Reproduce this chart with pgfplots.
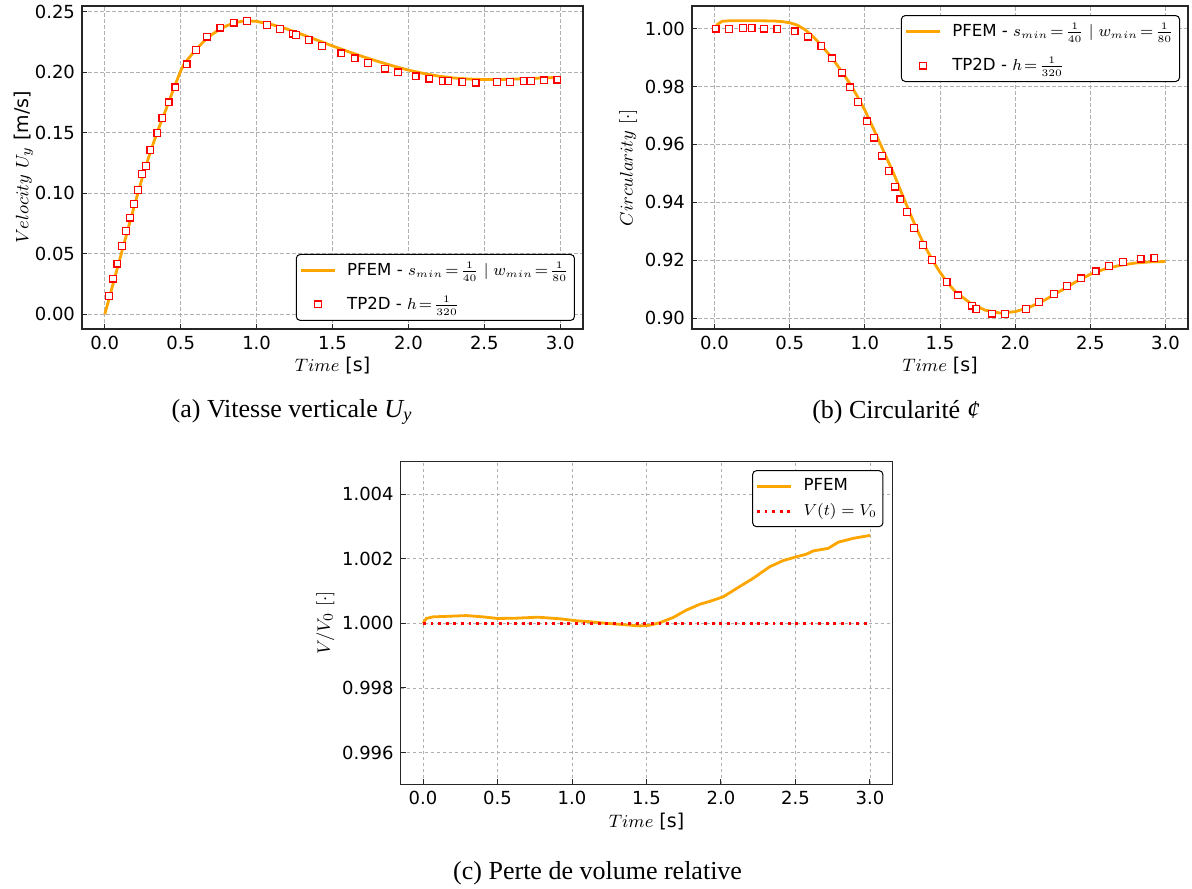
\documentclass[border=0pt]{standalone}
\usepackage[no-math]{fontspec}
\setmainfont{DejaVu Sans}
\newfontfamily\capfont{Liberation Serif}
\usepackage{pgfplots}
\pgfplotsset{compat=1.18}
\definecolor{mplorange}{HTML}{FFA500}
\definecolor{mplred}{RGB}{255,0,0}
\definecolor{gridgray}{HTML}{B0B0B0}
\newcommand{\eq}{\mkern2mu{=}\mkern2mu}
\newcommand{\lm}{\fontsize{7.8}{9}\selectfont}
\pgfplotsset{
  myax/.style={
    scale only axis,
    xmin=-0.15, xmax=3.15,
    xtick={0,0.5,1,1.5,2,2.5,3},
    xticklabel style={/pgf/number format/.cd,fixed,fixed zerofill,precision=1},
    /pgf/number format/assume math mode=true,
    scaled ticks=false,
    tick align=inside, tick pos=left,
    major tick length=2.5pt,
    grid=major,
    major grid style={gridgray, dash pattern=on 1.8pt off 1.2pt, line width=0.4pt},
    axis line style={black!85, line width=0.6pt},
    tick style={black!85, line width=0.5pt},
    tick label style={font=\fontsize{9}{10}\selectfont},
    label style={font=\fontsize{9.5}{11}\selectfont},
    xlabel style={yshift=3pt},
    ylabel style={yshift=-3pt},
    legend cell align=left,
    legend style={font=\fontsize{8.3}{9.8}\selectfont, draw=black, rounded corners=2pt, fill=white, line width=0.5pt,
      inner xsep=1.5pt, nodes={inner xsep=1.5pt}, /tikz/every odd column/.append style={column sep=4pt}},
  },
  pfem/.style={mplorange, line width=1.4pt, no markers},
  tp/.style={only marks, mark=square*, mark size=1.7pt, color=mplred, mark options={solid, line width=0.6pt, draw=mplred, fill=white}},
}
\begin{document}
\begin{tikzpicture}
\path[use as bounding box] (0,0) rectangle (596pt,-444pt);

% (a)
\begin{axis}[myax, at={(41pt,-3pt)}, anchor=north west, width=250.5pt, height=161.5pt,
  ymin=-0.0121, ymax=0.2545,
  ytick={0,0.05,0.1,0.15,0.2,0.25},
  yticklabel style={/pgf/number format/.cd,fixed,fixed zerofill,precision=2},
  xlabel={$Time$ [s]}, ylabel={$Velocity\ U_y$ [m/s]},
  ylabel style={yshift=-3pt},
  legend style={at={(0.984,0.025)}, anchor=south east, row sep=5pt}]
\addplot[pfem] coordinates {(0,0) (0.05,0.023) (0.1,0.046) (0.15,0.069) (0.2,0.092) (0.25,0.114) (0.3,0.134) (0.35,0.152) (0.4,0.168) (0.45,0.185) (0.5,0.201) (0.52,0.206) (0.55,0.211) (0.6,0.2185) (0.65,0.225) (0.7,0.2305) (0.75,0.2347) (0.8,0.238) (0.85,0.2405) (0.9,0.2418) (0.95,0.2422) (1.0,0.2418) (1.1,0.2392) (1.2,0.2355) (1.3,0.2310) (1.4,0.2263) (1.5,0.2215) (1.6,0.2170) (1.7,0.2127) (1.8,0.2087) (1.9,0.2050) (2.0,0.2016) (2.1,0.1988) (2.2,0.1966) (2.3,0.1951) (2.4,0.1942) (2.5,0.1938) (2.6,0.1938) (2.7,0.1942) (2.8,0.1947) (2.9,0.1952) (3.0,0.1956)};
\addlegendentry{PFEM - {\lm$s_{min}\eq\frac{1}{40}$ $|$ $w_{min}\eq\frac{1}{80}$}}
\addplot[tp] coordinates {(0.0285,0.0152) (0.0548,0.0295) (0.0833,0.0419) (0.1118,0.0565) (0.1404,0.0689) (0.1667,0.0799) (0.193,0.0912) (0.219,0.1028) (0.2456,0.1157) (0.272,0.1226) (0.300,0.1355) (0.3465,0.1499) (0.379,0.162) (0.421,0.1749) (0.465,0.1873) (0.539,0.2063) (0.599,0.2182) (0.675,0.2292) (0.761,0.2366) (0.849,0.2408) (0.936,0.2419) (1.068,0.2388) (1.154,0.2355) (1.239,0.2317) (1.261,0.2306) (1.342,0.2262) (1.432,0.2216) (1.558,0.2154) (1.645,0.2113) (1.732,0.2074) (1.844,0.2028) (1.93,0.1997) (2.048,0.1964) (2.138,0.1945) (2.226,0.1928) (2.263,0.1928) (2.355,0.192) (2.443,0.1912) (2.583,0.1917) (2.671,0.192) (2.759,0.1928) (2.807,0.1928) (2.895,0.1931) (2.982,0.1937)};
\addlegendentry{TP2D - {\lm$h\eq\frac{1}{320}$}}
\end{axis}

% (b)
\begin{axis}[myax, at={(346pt,-3pt)}, anchor=north west, width=248pt, height=161.5pt,
  ymin=0.8962, ymax=1.0078,
  ytick={0.9,0.92,0.94,0.96,0.98,1.0},
  yticklabel style={/pgf/number format/.cd,fixed,fixed zerofill,precision=2},
  xlabel={$Time$ [s]}, ylabel={$Circularity\ [\cdot]$},
  legend style={at={(0.984,0.972)}, anchor=north east, row sep=5pt}]
\addplot[pfem] coordinates {(0,1.0) (0.02,1.0015) (0.05,1.0025) (0.1,1.0027) (0.2,1.0027) (0.3,1.0027) (0.4,1.0026) (0.45,1.0024) (0.5,1.002) (0.55,1.0012) (0.6,0.9997) (0.65,0.9975) (0.7,0.9948) (0.75,0.9918) (0.8,0.9885) (0.85,0.9849) (0.9,0.981) (0.95,0.9766) (1.0,0.9718) (1.05,0.9662) (1.1,0.9605) (1.15,0.9547) (1.2,0.9489) (1.25,0.9425) (1.3,0.9362) (1.35,0.9302) (1.4,0.9247) (1.45,0.92) (1.5,0.9158) (1.55,0.9122) (1.6,0.9092) (1.7,0.9052) (1.8,0.9027) (1.9,0.9017) (2.0,0.9022) (2.1,0.9038) (2.2,0.9063) (2.3,0.9093) (2.4,0.9124) (2.5,0.9151) (2.6,0.9170) (2.7,0.9182) (2.8,0.9190) (2.9,0.9194) (3.0,0.9195)};
\addlegendentry{PFEM - {\lm$s_{min}\eq\frac{1}{40}$ $|$ $w_{min}\eq\frac{1}{80}$}}
\addplot[tp] coordinates {(0.0065,1.0) (0.096,0.9999) (0.1875,1.0001) (0.246,1.0001) (0.329,1.0) (0.4186,0.9998) (0.532,0.999) (0.6235,0.9972) (0.711,0.9939) (0.783,0.9897) (0.848,0.9848) (0.9025,0.9797) (0.9527,0.9747) (1.0137,0.9679) (1.0617,0.9623) (1.114,0.9561) (1.1576,0.9507) (1.2012,0.9454) (1.236,0.941) (1.2797,0.9367) (1.3277,0.9311) (1.3887,0.9252) (1.4476,0.9201) (1.544,0.9125) (1.62,0.9078) (1.7116,0.9043) (1.742,0.9032) (1.8446,0.9015) (1.934,0.9014) (2.0716,0.9032) (2.1566,0.9055) (2.259,0.9083) (2.3467,0.911) (2.438,0.9137) (2.5357,0.9161) (2.625,0.918) (2.717,0.9194) (2.835,0.9205) (2.926,0.9207)};
\addlegendentry{TP2D - {\lm$h\eq\frac{1}{320}$}}
\end{axis}

% (c)
\begin{axis}[myax, at={(200.35pt,-230.85pt)}, anchor=north west, width=245.8pt, height=161.3pt,
  ymin=0.99502, ymax=1.005,
  ytick={0.996,0.998,1.0,1.002,1.004},
  yticklabel style={/pgf/number format/.cd,fixed,fixed zerofill,precision=3},
  xlabel={$Time$ [s]}, ylabel={$V/V_0\ [\cdot]$},
  legend style={at={(0.982,0.974)}, anchor=north east, row sep=1pt}]
\addplot[pfem] coordinates {(0,1.0) (0.022,1.00015) (0.067,1.0002) (0.179,1.00022) (0.291,1.00024) (0.403,1.0002) (0.5,1.00015) (0.627,1.00016) (0.772,1.00019) (0.918,1.00014) (1.03,1.00008) (1.12,1.00005) (1.231,1.0) (1.343,0.99996) (1.455,0.99992) (1.522,0.99994) (1.589,1.00002) (1.679,1.00018) (1.768,1.00041) (1.858,1.00059) (1.925,1.00068) (2.015,1.00082) (2.105,1.00108) (2.215,1.00139) (2.327,1.00175) (2.417,1.00194) (2.507,1.00206) (2.574,1.00214) (2.619,1.00224) (2.72,1.00232) (2.787,1.00251) (2.888,1.00263) (3.0,1.00272)};
\addlegendentry{PFEM}
\addplot[mplred, line width=1.4pt, dash pattern=on 1.4pt off 2.4pt, no markers] coordinates {(0,1.0) (3.0,1.0)};
\addlegendentry{{\lm$V(t)=V_0$}}
\end{axis}

\node[font=\capfont\fontsize{13}{15}\selectfont] at (146pt,-206pt) {(a) Vitesse verticale \textit{U\textsubscript{y}}};
\node[font=\capfont\fontsize{13}{15}\selectfont] at (448pt,-206pt) {(b) Circularité \textit{¢}};
\node[font=\capfont\fontsize{13}{15}\selectfont] at (298.8pt,-436.5pt) {(c) Perte de volume relative};
\end{tikzpicture}
\end{document}
